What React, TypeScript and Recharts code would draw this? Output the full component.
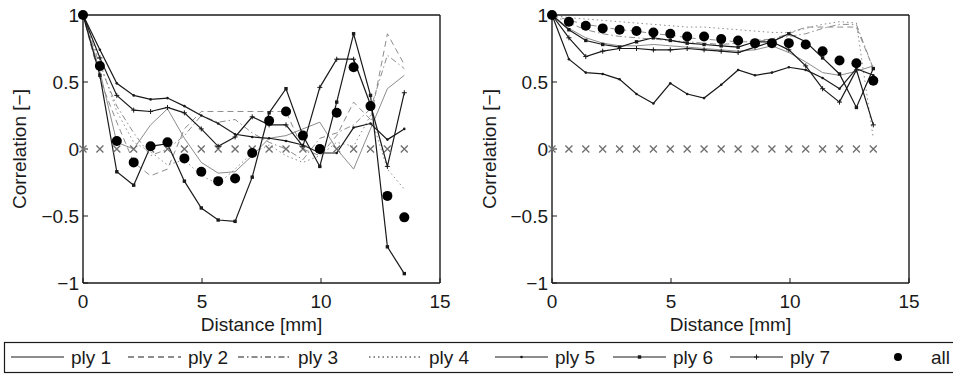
import React from 'react'
import { LineChart, Line, XAxis, YAxis } from 'recharts'

// distance [mm] of each lag
const distances = [0, 0.71, 1.42, 2.13, 2.84, 3.55, 4.26, 4.97, 5.68, 6.39, 7.11, 7.82, 8.53, 9.24, 9.95, 10.66, 11.37, 12.08, 12.79, 13.5]
const baseline = [0, 0, 0, 0, 0, 0, 0, 0, 0, 0, 0, 0, 0, 0, 0, 0, 0, 0, 0, 0]

// left panel
const leftPly1 = [1, 0.58, 0.05, 0.0, 0.18, 0.3, 0.08, -0.1, -0.18, -0.17, -0.05, 0.08, 0.1, 0.15, 0.2, 0.0, -0.15, 0.15, 0.45, 0.55]
const leftPly2 = [1, 0.52, 0.2, -0.1, -0.2, -0.15, 0.15, 0.28, 0.28, 0.28, 0.28, 0.28, 0.28, 0.0, -0.05, 0.1, 0.35, 0.22, 0.86, 0.63]
const leftPly3 = [1, 0.62, 0.32, 0.12, -0.05, 0.0, 0.1, 0.25, 0.2, 0.22, 0.12, 0.05, 0.0, -0.08, 0.08, 0.12, 0.18, 0.3, 0.7, 0.6]
const leftPly4 = [1, 0.65, 0.28, 0.05, -0.02, -0.12, -0.08, -0.2, -0.26, -0.15, -0.03, 0.03, -0.05, -0.1, -0.05, 0.05, 0.02, 0.25, -0.15, -0.3]
const leftPly5 = [1, 0.74, 0.49, 0.4, 0.37, 0.38, 0.32, 0.25, 0.19, 0.11, 0.09, 0.08, 0.06, 0.03, -0.03, -0.03, 0.16, 0.19, 0.07, 0.15]
const leftPly6 = [1, 0.55, -0.17, -0.27, 0.02, 0.04, -0.24, -0.44, -0.53, -0.54, -0.21, 0.27, 0.45, 0.1, -0.13, 0.35, 0.86, 0.4, -0.73, -0.93]
const leftPly7 = [1, 0.68, 0.4, 0.29, 0.28, 0.31, 0.27, 0.15, 0.02, 0.09, 0.24, 0.18, 0.18, 0.02, 0.46, 0.67, 0.67, 0.33, -0.13, 0.42]
const leftAll = [1, 0.62, 0.06, -0.1, 0.02, 0.05, -0.07, -0.17, -0.24, -0.22, -0.03, 0.21, 0.28, 0.1, 0.0, 0.27, 0.61, 0.32, -0.35, -0.51]

// right panel
const rightPly1 = [1, 0.9, 0.83, 0.79, 0.77, 0.77, 0.78, 0.77, 0.76, 0.75, 0.74, 0.73, 0.74, 0.77, 0.72, 0.65, 0.57, 0.55, 0.58, 0.62]
const rightPly2 = [1, 0.96, 0.93, 0.91, 0.89, 0.88, 0.86, 0.85, 0.83, 0.82, 0.81, 0.8, 0.8, 0.82, 0.86, 0.91, 0.91, 0.91, 0.91, 0.6]
const rightPly3 = [1, 0.94, 0.89, 0.86, 0.84, 0.83, 0.82, 0.81, 0.8, 0.79, 0.78, 0.79, 0.81, 0.82, 0.84, 0.86, 0.9, 0.93, 0.93, 0.6]
const rightPly4 = [1, 0.98, 0.97, 0.96, 0.95, 0.94, 0.93, 0.92, 0.91, 0.91, 0.9, 0.89, 0.88, 0.87, 0.87, 0.9, 0.93, 0.95, 0.94, 0.08]
const rightPly5 = [1, 0.67, 0.57, 0.56, 0.52, 0.41, 0.34, 0.49, 0.41, 0.38, 0.48, 0.59, 0.55, 0.57, 0.61, 0.59, 0.53, 0.45, 0.6, 0.55]
const rightPly6 = [1, 0.89, 0.81, 0.78, 0.76, 0.8, 0.83, 0.81, 0.79, 0.78, 0.77, 0.76, 0.8, 0.8, 0.86, 0.8, 0.68, 0.56, 0.31, 0.6]
const rightPly7 = [1, 0.83, 0.69, 0.73, 0.75, 0.75, 0.74, 0.74, 0.75, 0.74, 0.73, 0.72, 0.76, 0.8, 0.74, 0.62, 0.45, 0.35, 0.59, 0.18]
const rightAll = [1, 0.95, 0.92, 0.9, 0.89, 0.88, 0.87, 0.86, 0.84, 0.84, 0.82, 0.81, 0.79, 0.79, 0.79, 0.78, 0.73, 0.66, 0.64, 0.51]

const xTicks = [0, 5, 10, 15]
const yTicks = [-1, -0.5, 0, 0.5, 1]
const legendNames = ['ply 1', 'ply 2', 'ply 3', 'ply 4', 'ply 5', 'ply 6', 'ply 7', 'all']

const FONT = '"Liberation Sans", Arial, sans-serif'
const INK = '#1a1a1a'
const GREY = '#8c8c8c'

const toRows = (s: number[][]) =>
  distances.map((d, i) => ({
    d, zero: baseline[i],
    ply1: s[0][i], ply2: s[1][i], ply3: s[2][i], ply4: s[3][i],
    ply5: s[4][i], ply6: s[5][i], ply7: s[6][i], all: s[7][i],
  }))

const leftRows = toRows([leftPly1, leftPly2, leftPly3, leftPly4, leftPly5, leftPly6, leftPly7, leftAll])
const rightRows = toRows([rightPly1, rightPly2, rightPly3, rightPly4, rightPly5, rightPly6, rightPly7, rightAll])

const SmallDot = (p: any) => (p.cx == null ? null : <circle key={p.index} cx={p.cx} cy={p.cy} r={1.3} fill={INK} />)
const SquareDot = (p: any) => (p.cx == null ? null : <rect key={p.index} x={p.cx - 1.7} y={p.cy - 1.7} width={3.4} height={3.4} fill={INK} />)
const PlusDot = (p: any) => (p.cx == null ? null : (
  <path key={p.index} d={`M${p.cx - 2.5},${p.cy}h5M${p.cx},${p.cy - 2.5}v5`} stroke={INK} strokeWidth={1} />
))
const BigDot = (p: any) => (p.cx == null ? null : <circle key={p.index} cx={p.cx} cy={p.cy} r={5} fill="#000" />)
const Cross = (p: any) => (p.cx == null ? null : (
  <path key={p.index} d={`M${p.cx - 3.5},${p.cy - 3.5}l7,7M${p.cx + 3.5},${p.cy - 3.5}l-7,7`} stroke="#6e6e6e" strokeWidth={1.3} />
))

const fmt = (v: number) => String(v).replace('-', '\u2212')

function Panel({ rows, left, yWidth, right }: { rows: any[]; left: number; yWidth: number; right: number }) {
  const axisLine = { stroke: INK, strokeWidth: 1.4 }
  const tick = { fontSize: 19, fill: INK, fontFamily: FONT }
  return (
    <div style={{ position: 'absolute', left, top: 0 }}>
      <LineChart width={476} height={340} data={rows} margin={{ top: 14, right, bottom: 7, left: 0 }}>
        <XAxis
          dataKey="d" type="number" domain={[0, 15]} ticks={xTicks} height={50}
          tickSize={-5} tickMargin={17} tick={tick} axisLine={axisLine} tickLine={{ stroke: INK }}
          label={(p: any) => (
            <text x={p.viewBox.x + p.viewBox.width / 2} y={p.viewBox.y + 48} textAnchor="middle"
              fontSize={19} fontFamily={FONT} fill={INK}>Distance [mm]</text>
          )}
        />
        <XAxis xAxisId="top" orientation="top" dataKey="d" type="number" domain={[0, 15]} ticks={xTicks}
          height={1} tickSize={-5} tick={false} axisLine={axisLine} tickLine={{ stroke: INK }} />
        <YAxis
          type="number" domain={[-1, 1]} ticks={yTicks} width={yWidth} tickFormatter={fmt}
          tickSize={-5} tickMargin={9} tick={tick} axisLine={axisLine} tickLine={{ stroke: INK }}
          label={(p: any) => {
            const cy = p.viewBox.y + p.viewBox.height / 2
            return (
              <text transform={`translate(26,${cy}) rotate(-90)`} textAnchor="middle"
                fontSize={19} fontFamily={FONT} fill={INK}>Correlation [{'\u2212'}]</text>
            )
          }}
        />
        <YAxis yAxisId="right" orientation="right" type="number" domain={[-1, 1]} ticks={yTicks} width={1}
          tickSize={-5} tick={false} axisLine={axisLine} tickLine={{ stroke: INK }} />
        <Line xAxisId="top" yAxisId="right" dataKey="zero" stroke="none" dot={Cross} activeDot={false} isAnimationActive={false} />
        <Line dataKey="ply1" stroke={GREY} strokeWidth={1} dot={false} activeDot={false} isAnimationActive={false} />
        <Line dataKey="ply2" stroke={GREY} strokeWidth={1} strokeDasharray="6 4" dot={false} activeDot={false} isAnimationActive={false} />
        <Line dataKey="ply3" stroke={GREY} strokeWidth={1} strokeDasharray="6 3 1.5 3" dot={false} activeDot={false} isAnimationActive={false} />
        <Line dataKey="ply4" stroke={GREY} strokeWidth={1} strokeDasharray="1.5 3" dot={false} activeDot={false} isAnimationActive={false} />
        <Line dataKey="ply5" stroke={INK} strokeWidth={1.2} dot={SmallDot} activeDot={false} isAnimationActive={false} />
        <Line dataKey="ply6" stroke={INK} strokeWidth={1.2} dot={SquareDot} activeDot={false} isAnimationActive={false} />
        <Line dataKey="ply7" stroke={INK} strokeWidth={1.2} dot={PlusDot} activeDot={false} isAnimationActive={false} />
        <Line dataKey="all" stroke="none" dot={BigDot} activeDot={false} isAnimationActive={false} />
      </LineChart>
    </div>
  )
}

// legend styles in the order of legendNames
const legendDash = [undefined, '6 4', '6 3 1.5 3', '1.5 3', undefined, undefined, undefined]
const legendMarks = [null, null, null, null, SmallDot, SquareDot, PlusDot]
const legendTextX = [71, 188, 298, 429, 555, 673, 790, 931]

function Legend() {
  const y = 357
  return (
    <svg width={953} height={385} style={{ position: 'absolute', left: 0, top: 0 }}>
      <rect x={4.5} y={342.5} width={960} height={30} fill="#fff" stroke={INK} strokeWidth={1.2} />
      {legendNames.map((name, i) => {
        const tx = legendTextX[i]
        const isAll = name === 'all'
        const x1 = isAll ? tx - 36 : tx - 60
        const x2 = tx - 7
        const Mark = legendMarks[i]
        return (
          <g key={name}>
            {isAll ? (
              <circle cx={tx - 33} cy={y} r={4} fill="#000" />
            ) : (
              <line x1={x1} x2={x2} y1={y} y2={y} stroke={INK} strokeWidth={1.2} strokeDasharray={legendDash[i]} />
            )}
            {Mark ? Mark({ cx: (x1 + x2) / 2, cy: y, index: i }) : null}
            <text x={tx} y={y + 6.5} fontSize={19} fontFamily={FONT} fill={INK}>{name}</text>
          </g>
        )
      })}
    </svg>
  )
}

export default function App() {
  return (
    <div style={{ position: 'absolute', left: 0, top: 0, width: 953, height: 385, background: '#fff', fontFamily: FONT }}>
      <Panel rows={leftRows} left={0} yWidth={83} right={35} />
      <Panel rows={rightRows} left={470} yWidth={82} right={36} />
      <Legend />
    </div>
  )
}
